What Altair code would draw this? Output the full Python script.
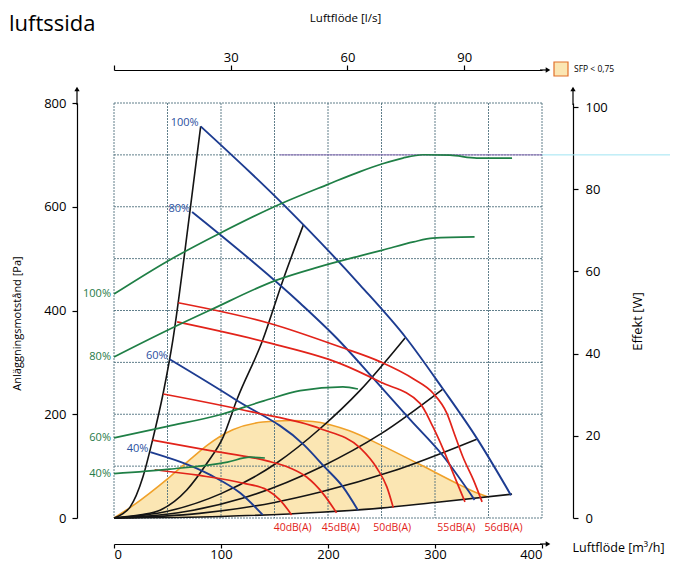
import altair as alt
import pandas as pd

FONT = "Open Sans"

# ---------------- axis ticks / grid ----------------
pa_ticks = [0, 200, 400, 600, 800]
w_ticks = [0, 20, 40, 60, 80, 100]
m3h_ticks = [0, 100, 200, 300, 400]
ls_ticks = [0, 30, 60, 90]
grid_q = [0, 50, 100, 150, 200, 250, 300, 350, 400]
grid_p = [0, 100, 200, 300, 400, 500, 600, 700, 800]

# ---------------- fan curves (blue): flow m3/h, pressure Pa ----------------
fan_names = ["100%", "80%", "60%", "40%"]
fan100_q = [81, 157, 230, 273, 307, 339, 371]
fan100_p = [755, 607, 449, 347, 250, 154, 44]
fan80_q = [73, 174, 208, 242, 277, 307, 337]
fan80_p = [590, 414, 347, 270, 189, 121, 35]
fan60_q = [52, 113, 178, 197, 214, 228]
fan60_p = [306, 229, 140, 98, 60, 15]
fan40_q = [34, 90, 118, 139]
fan40_p = [127, 83, 48, 6]

# ---------------- power curves (green): flow m3/h, power W ----------------
pow_names = ["100%", "80%", "60%", "40%"]
pow100_q = [0, 50, 99, 157, 200, 230, 251, 270, 289, 314, 339, 372]
pow100_w = [54.5, 62.5, 69.3, 76.6, 81.2, 84.3, 86.2, 87.6, 88.4, 88.3, 87.6, 87.6]
pow80_q = [0, 50, 90, 152, 190, 230, 251, 280, 298, 337]
pow80_w = [39.2, 45.7, 50.6, 57.9, 61.0, 63.8, 65.2, 67.2, 68.1, 68.4]
pow60_q = [0, 50, 100, 140, 174, 214, 228]
pow60_w = [19.5, 22.3, 25.2, 28.5, 31.0, 31.9, 31.4]
pow40_q = [0, 52, 106, 127, 141]
pow40_w = [10.8, 11.9, 13.6, 14.8, 14.6]

# ---------------- system curves (black) ----------------
sys_names = ["s1", "s2", "s3", "s4", "s5", "s6"]
sys1_q = [0, 8, 15, 27, 36, 46, 55, 66, 81]
sys1_p = [0, 8, 21, 79, 150, 241, 343, 510, 755]
sys2_q = [0, 25, 43, 68, 87, 102, 115, 139, 158, 177]
sys2_p = [0, 6, 15, 54, 106, 156, 229, 343, 459, 565]
sys3_q = [0, 50, 100, 152, 193, 230, 272]
sys3_p = [0, 13, 47, 106, 173, 246, 347]
sys4_q = [0, 60, 120, 193, 250, 307]
sys4_p = [0, 10, 38, 98, 163, 248]
sys5_q = [0, 80, 150, 193, 260, 339]
sys5_p = [0, 9, 30, 50, 90, 152]
sys6_q = [0, 100, 193, 249, 300, 372]
sys6_p = [0, 3, 11, 19, 30, 46]

# ---------------- sound curves (red) ----------------
noise_names = ["40dB(A)", "45dB(A)", "50dB(A)", "55dB(A)", "56dB(A)"]
red40_q = [38, 80, 121, 143, 155, 166]
red40_p = [93, 82, 67, 54, 35, 6]
red45_q = [36, 90, 143, 165, 180, 195, 208]
red45_p = [150, 130, 110, 96, 79, 48, 10]
red50_q = [46, 130, 193, 230, 246, 255, 261]
red50_p = [239, 204, 172, 135, 95, 60, 20]
red55_q = [59, 146, 211, 249, 286, 298, 308, 317, 328]
red55_p = [378, 337, 298, 262, 221, 176, 131, 86, 31]
red56_q = [60, 146, 211, 249, 280, 298, 311, 319, 326, 336, 344]
red56_p = [415, 375, 330, 301, 268, 241, 202, 157, 118, 73, 31]
noise_label_q = [167, 212, 260, 320, 364]

# ---------------- SFP < 0,75 region ----------------
sfp_label = "SFP < 0,75"
sfp_q = [0, 17, 52, 74, 87, 111, 139, 165, 186, 220, 249, 286, 320, 335, 349]
sfp_top = [0, 23, 79, 118, 140, 170, 185, 188, 186, 168, 141, 103, 67, 52, 41]
sfp_bottom = [0, 0, 1, 1.5, 2, 3, 5, 8, 10, 14, 19, 27, 34, 38, 41]

# 700 Pa highlight line
hl_q = [155, 400]
hl_ext_q = [400, 520]
hl_p = 700

title_text = "luftssida"

# ---------------- colours ----------------
BLUE = "#1d3c91"
GREEN = "#1f7f46"
RED = "#e2231a"
BLACK = "#141414"
ORANGE = "#f0a12a"
FILL = "#fbe6b3"
GRID = "#4f717e"


def long_df(names, qs, vs, vname):
    rows = []
    for n, ql, vl in zip(names, qs, vs):
        for i, (q, v) in enumerate(zip(ql, vl)):
            rows.append({"series": n, "i": i, "q": q, vname: v})
    return pd.DataFrame(rows)


fan_df = long_df(fan_names, [fan100_q, fan80_q, fan60_q, fan40_q],
                 [fan100_p, fan80_p, fan60_p, fan40_p], "p")
pow_df = long_df(pow_names, [pow100_q, pow80_q, pow60_q, pow40_q],
                 [pow100_w, pow80_w, pow60_w, pow40_w], "w")
sys_df = long_df(sys_names, [sys1_q, sys2_q, sys3_q, sys4_q, sys5_q, sys6_q],
                 [sys1_p, sys2_p, sys3_p, sys4_p, sys5_p, sys6_p], "p")
red_df = long_df(noise_names, [red40_q, red45_q, red50_q, red55_q, red56_q],
                 [red40_p, red45_p, red50_p, red55_p, red56_p], "p")
sfp_df = pd.DataFrame({"q": sfp_q, "p": sfp_top, "p2": sfp_bottom, "k": sfp_label})
fan_lab = fan_df[fan_df["i"] == 0]
pow_lab = pow_df[pow_df["i"] == 0]
noise_lab = pd.DataFrame({"q": noise_label_q, "t": noise_names})

axis_common = dict(domainColor="black", tickColor="black", labelColor="black",
                   titleColor="black", labelFont=FONT, titleFont=FONT,
                   domainWidth=1.2, tickWidth=1.2, titleFontWeight="normal",
                   labelFontSize=13, grid=False)

X = alt.X("q:Q", scale=alt.Scale(domain=[0, 400], nice=False, zero=False),
          axis=alt.Axis(values=m3h_ticks, offset=26, title="Luftflöde [m³/h]",
                        titleX=458, titleY=3, titleAlign="left", titleBaseline="middle",
                        titleAngle=0, titleFontSize=12.5, labelPadding=0, tickSize=4,
                        **axis_common))
Y = alt.Y("p:Q", scale=alt.Scale(domain=[0, 800], nice=False),
          axis=alt.Axis(values=pa_ticks, offset=37, title="Anläggningsmotstånd [Pa]",
                        titleX=-60, titleY=220, titleAngle=270, titleAlign="center",
                        titleBaseline="middle", titleFontSize=11, labelPadding=6,
                        tickSize=5, **axis_common))
W = alt.Y("w:Q", scale=alt.Scale(domain=[0, 101], nice=False),
          axis=alt.Axis(orient="right", values=w_ticks, offset=31, title="Effekt [W]",
                        titleX=64, titleY=218, titleAngle=270, titleAlign="center",
                        titleBaseline="middle", titleFontSize=13, labelPadding=7,
                        tickSize=5, **axis_common))
LS = alt.X("ls:Q", scale=alt.Scale(domain=[0, 110], nice=False, zero=False),
           axis=alt.Axis(orient="top", values=ls_ticks, offset=33, title="Luftflöde [l/s]",
                         labelExpr="datum.value == 0 ? '' : datum.label",
                         titleX=231, titleY=-52, titleBaseline="middle", titleAlign="center",
                         titleFontSize=11.5, labelPadding=1, tickSize=5, **axis_common))

one = pd.DataFrame({"a": [0]})

area = alt.Chart(sfp_df).mark_area(interpolate="monotone").encode(
    x=X, y=Y, y2="p2:Q",
    color=alt.Color("k:N", scale=alt.Scale(range=[FILL]),
                    legend=alt.Legend(title=None, orient="none", legendX=439, legendY=-42,
                                      symbolType="square", symbolSize=196,
                                      symbolStrokeColor="#e2702a", symbolStrokeWidth=1.2,
                                      labelFont=FONT, labelFontSize=8.5, labelColor="black",
                                      labelOffset=5, padding=0)))
sfp_edge = alt.Chart(sfp_df).mark_line(color=ORANGE, strokeWidth=1.6,
                                       interpolate="monotone").encode(x=X, y=Y)

vgrid = alt.Chart(pd.DataFrame({"q": grid_q})).mark_rule(
    color=GRID, strokeWidth=0.9, strokeDash=[2, 1]).encode(x=X)
hgrid = alt.Chart(pd.DataFrame({"p": grid_p})).mark_rule(
    color=GRID, strokeWidth=0.9, strokeDash=[2, 1]).encode(y=Y)

hl = alt.Chart(pd.DataFrame({"q": [hl_q[0]], "q2": [hl_q[1]], "p": [hl_p]})).mark_rule(
    color="#8a6fb8", strokeWidth=1).encode(x=X, x2="q2:Q", y=Y)
hl_ext = alt.Chart(pd.DataFrame({"q": [hl_ext_q[0]], "q2": [hl_ext_q[1]], "p": [hl_p]})).mark_rule(
    color="#9fe4f2", strokeWidth=1).encode(x=X, x2="q2:Q", y=Y)

sys_lines = alt.Chart(sys_df).mark_line(color=BLACK, strokeWidth=1.6,
                                        interpolate="monotone").encode(
    x=X, y=Y, detail="series:N", order="i:Q")
fan_lines = alt.Chart(fan_df).mark_line(color=BLUE, strokeWidth=1.9,
                                        interpolate="monotone").encode(
    x=X, y=Y, detail="series:N", order="i:Q")
red_lines = alt.Chart(red_df).mark_line(color=RED, strokeWidth=1.7,
                                        interpolate="monotone").encode(
    x=X, y=Y, detail="series:N", order="i:Q")

fan_text = alt.Chart(fan_lab).mark_text(align="right", baseline="middle", dx=-2, dy=-3,
                                        font=FONT, fontSize=11, color="#2a4fa0").encode(
    x=X, y=Y, text="series:N")
noise_text = alt.Chart(noise_lab).mark_text(align="center", baseline="middle",
                                            font=FONT, fontSize=10.5, color=RED).encode(
    x=X, y=alt.value(425), text="t:N")

# axis extensions with arrow heads
ext_v = alt.Chart(pd.DataFrame({"x": [-37, 459]})).mark_rule(color="black", strokeWidth=1.2).encode(
    x=alt.X("x:Q", scale=None), y=alt.value(2), y2=alt.value(-12))
ext_h = alt.Chart(pd.DataFrame({"y": [-33, 441]})).mark_rule(color="black", strokeWidth=1.2).encode(
    y=alt.Y("y:Q", scale=None), x=alt.value(426), x2=alt.value(432))
arrow_up = alt.Chart(pd.DataFrame({"x": [-37, 459]})).mark_point(
    shape="triangle-up", filled=True, size=28, color="black", opacity=1).encode(
    x=alt.X("x:Q", scale=None), y=alt.value(-14))
arrow_r = alt.Chart(pd.DataFrame({"y": [-33, 441]})).mark_point(
    shape="triangle-right", filled=True, size=28, color="black", opacity=1).encode(
    y=alt.Y("y:Q", scale=None), x=alt.value(434))

title = alt.Chart(one).mark_text(align="left", baseline="alphabetic", font=FONT,
                                 fontSize=22, color="black").encode(
    x=alt.value(-105), y=alt.value(-72), text=alt.value(title_text))

pa_group = alt.layer(area, vgrid, hgrid, hl, hl_ext, sfp_edge, sys_lines, fan_lines,
                     red_lines, fan_text, noise_text, ext_v, ext_h, arrow_up, arrow_r, title)

pow_lines = alt.Chart(pow_df).mark_line(color=GREEN, strokeWidth=1.7,
                                        interpolate="monotone").encode(
    x=X, y=W, detail="series:N", order="i:Q")
pow_text = alt.Chart(pow_lab).mark_text(align="right", baseline="middle", dx=-3,
                                        font=FONT, fontSize=11, color="#267a48").encode(
    x=X, y=W, text="series:N")
w_group = alt.layer(pow_lines, pow_text)

main = alt.layer(pa_group, w_group).resolve_scale(y="independent")

top = alt.Chart(pd.DataFrame({"ls": ls_ticks})).mark_point(opacity=0).encode(x=LS)

chart = alt.layer(main, top).resolve_scale(x="independent").properties(
    width=428, height=415,
    autosize=alt.AutoSizeParams(type="none"),
    padding={"left": 106, "top": 95, "right": 128, "bottom": 43},
).configure_view(stroke="transparent")

chart.save("out.html", embed_options={"renderer": "svg", "actions": False})
